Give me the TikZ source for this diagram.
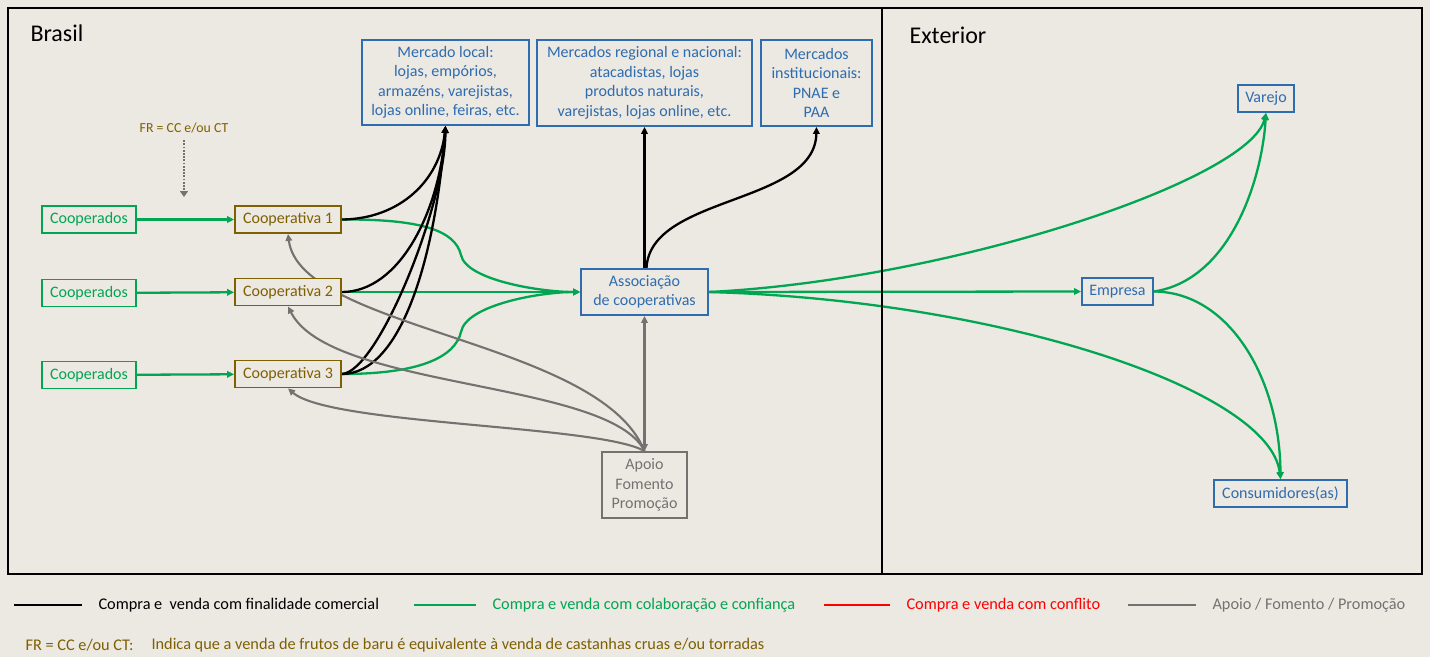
\documentclass[tikz,border=0pt]{standalone}
\usepackage{fontspec}
\setmainfont{Carlito}
\usetikzlibrary{arrows.meta}
\definecolor{paper}{RGB}{236,232,226}
\definecolor{cgreen}{RGB}{0,166,81}
\definecolor{cblue}{RGB}{46,108,176}
\definecolor{cbrown}{RGB}{127,96,0}
\definecolor{cgray}{RGB}{118,113,113}
\definecolor{cred}{RGB}{255,0,0}
\pgfdeclarelayer{paperlayer}
\pgfdeclarelayer{links}
\pgfsetlayers{paperlayer,links,main}

\begin{document}
\begin{tikzpicture}[x=1pt,y=-1pt,
  box/.style={draw,fill=paper,line width=1.8pt,inner sep=0pt,align=center,
    font=\fontsize{16}{19.5}\selectfont},
  coopdo/.style={box,draw=cgreen,text=cgreen,minimum width=94pt,minimum height=27pt},
  coopva/.style={box,draw=cbrown,text=cbrown,minimum width=106pt,minimum height=27pt},
  market/.style={box,draw=cblue,text=cblue},
  support/.style={box,draw=cgray,text=cgray},
  arrowend/.style={-{Triangle[length=7pt,width=6.5pt]}},
  glink/.style={draw=cgreen,line width=2.3pt,arrowend},
  blink/.style={draw=black,line width=2.3pt,arrowend},
  ylink/.style={draw=cgray,line width=2.1pt,arrowend},
  region/.style={anchor=west,font=\fontsize{24}{28}\selectfont},
  legtext/.style={anchor=west,font=\fontsize{16.3}{19}\selectfont},
  legline/.style={line width=2pt}
]
\useasboundingbox (0,0) rectangle (1430,657);
\begin{pgfonlayer}{paperlayer}
  \fill[paper] (0,0) rectangle (1430,657);
\end{pgfonlayer}

% frames
\draw[line width=2pt] (8,8) rectangle (1422,574);
\draw[line width=2pt] (882,8) -- (882,574);
\node[region] (brasil) at (27,33) {Brasil};
\node[region] (exterior) at (906,35) {Exterior};

% producers and cooperatives
\node[coopdo] (cp1) at (89,219.5) {Cooperados};
\node[coopdo] (cp2) at (89,293) {Cooperados};
\node[coopdo] (cp3) at (89,375) {Cooperados};
\node[coopva] (co1) at (288,219.5) {Cooperativa 1};
\node[coopva] (co2) at (288,292) {Cooperativa 2};
\node[coopva] (co3) at (288,374) {Cooperativa 3};

% markets
\node[market,minimum width=167pt,minimum height=85pt] (ml) at (445.5,82.5)
  {Mercado local:\\lojas, empórios,\\armazéns, varejistas,\\lojas online, feiras, etc.};
\node[market,minimum width=215pt,minimum height=86pt] (mr) at (644.5,83)
  {Mercados regional e nacional:\\atacadistas, lojas\\produtos naturais,\\varejistas, lojas online, etc.};
\node[market,minimum width=111pt,minimum height=86pt] (mi) at (816.5,83)
  {Mercados\\institucionais:\\PNAE e\\PAA};
\node[market,minimum width=127pt,minimum height=46pt] (as) at (644.5,292)
  {Associação\\de cooperativas};
\node[support,minimum width=85pt,minimum height=66pt] (ap) at (644.5,485)
  {Apoio\\Fomento\\Promoção};

% abroad
\node[market,minimum width=56pt,minimum height=27pt] (va) at (1266,98.5) {Varejo};
\node[market,minimum width=71pt,minimum height=27pt] (em) at (1117.5,291.5) {Empresa};
\node[market,minimum width=133pt,minimum height=27pt] (cs) at (1280.5,493.5) {Consumidores(as)};

% note on fruit / nut equivalence
\node[text=cbrown,font=\fontsize{13.8}{16}\selectfont,inner sep=1pt] (fr) at (184,128) {FR = CC e/ou CT};
\coordinate (frend) at (184,197);

\begin{pgfonlayer}{links}
  \draw[draw=cgray,line width=2.8pt,dash pattern=on 1.7pt off 1.5pt,
        -{Triangle[length=6pt,width=8pt]}] (fr.south) ++(0,6) -- (frend);

  % cooperative members to cooperatives
  \draw[glink] (cp1) -- (co1);
  \draw[glink] (cp2) -- (co2);
  \draw[glink] (cp3) -- (co3);

  % cooperatives to the association
  \draw[glink] (co1.east) .. controls (420,219) and (455,230) .. (461,255)
                          .. controls (466,280) and (540,292) .. (as.west);
  \draw[glink] (co2.east) -- (as.west);
  \draw[glink] (co3.east) .. controls (420,374) and (455,357) .. (461,332)
                          .. controls (466,305) and (540,292) .. (as.west);

  % commercial sales
  \draw[blink] (co1.east) .. controls (400,219) and (440,180) .. (ml.south);
  \draw[blink] (co2.east) .. controls (400,292) and (440,210) .. (ml.south);
  \draw[blink] (co3.east) .. controls (400,374) and (435,262) .. (ml.south);
  \draw[blink] (co3.east) .. controls (378,372) and (445,205) .. (ml.south);
  \draw[blink] (as.north) -- (mr.south);
  \draw[blink] ([xshift=2pt]as.north) .. controls (650,195) and (815,205) .. (mi.south);

  % support
  \draw[ylink,{Triangle[length=7pt,width=6.5pt]}-{Triangle[length=7pt,width=6.5pt]}] (ap.north) -- (as.south);
  \draw[ylink] (ap.north) .. controls (600,340) and (300,330) .. (co1.south);
  \draw[ylink] (ap.north) .. controls (610,380) and (330,390) .. (co2.south);
  \draw[ylink] (ap.north) .. controls (600,425) and (330,425) .. (co3.south);

  % exports
  \draw[glink] (as.east) -- (em.west);
  \draw[glink] (as.east) .. controls (950,280) and (1250,180) .. (va.south);
  \draw[glink] (as.east) .. controls (1000,300) and (1270,390) .. (cs.north);
  \draw[glink] (em.east) .. controls (1230,280) and (1262,180) .. (va.south);
  \draw[glink] (em.east) .. controls (1230,292) and (1280,380) .. (cs.north);
\end{pgfonlayer}

% legend
\draw[legline,black] (14,605) -- (82,605);
\node[legtext] (l1) at (95,605) {Compra e \ venda com finalidade comercial};
\draw[legline,cgreen] (414,605) -- (476,605);
\node[legtext,text=cgreen] (l2) at (489,605) {Compra e venda com colaboração e confiança};
\draw[legline,cred] (824,605) -- (890,605);
\node[legtext,text=cred] (l3) at (903,605) {Compra e venda com conflito};
\draw[legline,cgray] (1128,605) -- (1196,605);
\node[legtext,text=cgray] (l4) at (1209,605) {Apoio / Fomento / Promoção};
\node[legtext,text=cbrown] (n1) at (22,645) {FR = CC e/ou CT:};
\node[legtext,text=cbrown] (n2) at (148,645) {Indica que a venda de frutos de baru é equivalente à venda de castanhas cruas e/ou torradas};
\end{tikzpicture}
\end{document}
